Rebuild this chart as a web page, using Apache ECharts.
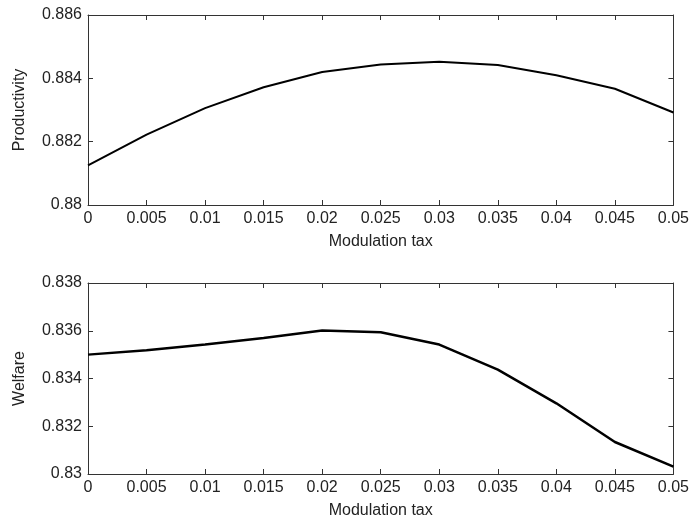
<!DOCTYPE html>
<html>
<head>
<meta charset="utf-8">
<script src="https://cdn.jsdelivr.net/npm/echarts@6/dist/echarts.min.js"></script>
<style>
html,body{margin:0;padding:0;background:#fff;}
#c{width:692px;height:523px;}
</style>
</head>
<body>
<div id="c"></div>
<script>
var taxValues = [0, 0.005, 0.01, 0.015, 0.02, 0.025, 0.03, 0.035, 0.04, 0.045, 0.05];
var productivity = [0.88125, 0.88222, 0.88306, 0.88372, 0.88420, 0.88444, 0.88452, 0.88442, 0.88410, 0.88367, 0.88292];
var welfare = [0.83500, 0.83518, 0.83542, 0.83570, 0.83601, 0.83594, 0.83542, 0.83437, 0.83296, 0.83134, 0.83031];
var xTickLabels = ['0', '0.005', '0.01', '0.015', '0.02', '0.025', '0.03', '0.035', '0.04', '0.045', '0.05'];
var prodTickLabels = ['0.88', '0.882', '0.884', '0.886'];
var welfTickLabels = ['0.83', '0.832', '0.834', '0.836', '0.838'];

var FONT = 'Liberation Sans';
var FS = 16;
var TXT = '#222';
var AX = '#333';

function pairs(xs, ys) { return xs.map(function (x, i) { return [x, ys[i]]; }); }

function xLabelFmt(v) {
  var idx = Math.round(v / 0.005);
  return xTickLabels[idx] !== undefined ? xTickLabels[idx] : '';
}
function yLabelFmt(labels, min, step) {
  return function (v) {
    var idx = Math.round((v - min) / step);
    return labels[idx] !== undefined ? labels[idx] : '';
  };
}

function mainX(gi) {
  return {
    type: 'value', gridIndex: gi, min: 0, max: 0.05, interval: 0.005,
    position: 'bottom',
    name: 'Modulation tax', nameLocation: 'middle', nameGap: 29,
    nameTextStyle: { fontFamily: FONT, fontSize: FS, color: TXT },
    axisLine: { show: true, onZero: false, lineStyle: { color: AX, width: 1 } },
    axisTick: { show: true, inside: true, length: 5, lineStyle: { color: AX } },
    axisLabel: { fontFamily: FONT, fontSize: FS, color: TXT, margin: 6, formatter: xLabelFmt, showMinLabel: true, showMaxLabel: true, hideOverlap: false },
    splitLine: { show: false }
  };
}
function topX(gi) {
  return {
    type: 'value', gridIndex: gi, min: 0, max: 0.05, interval: 0.005,
    position: 'top',
    axisLine: { show: true, onZero: false, lineStyle: { color: AX, width: 1 } },
    axisTick: { show: true, inside: true, length: 5, lineStyle: { color: AX } },
    axisLabel: { show: false }, splitLine: { show: false }
  };
}
function mainY(gi, min, max, step, labels, name) {
  return {
    type: 'value', gridIndex: gi, min: min, max: max, interval: step,
    position: 'left',
    name: name, nameLocation: 'middle', nameGap: 60, nameRotate: 90,
    nameTextStyle: { fontFamily: FONT, fontSize: FS, color: TXT },
    axisLine: { show: true, onZero: false, lineStyle: { color: AX, width: 1 } },
    axisTick: { show: true, inside: true, length: 5, lineStyle: { color: AX } },
    axisLabel: { fontFamily: FONT, fontSize: FS, color: TXT, margin: 6, formatter: yLabelFmt(labels, min, step) },
    splitLine: { show: false }
  };
}
function rightY(gi, min, max, step) {
  return {
    type: 'value', gridIndex: gi, min: min, max: max, interval: step,
    position: 'right',
    axisLine: { show: true, onZero: false, lineStyle: { color: AX, width: 1 } },
    axisTick: { show: true, inside: true, length: 5, lineStyle: { color: AX } },
    axisLabel: { show: false }, splitLine: { show: false }
  };
}

var chart = echarts.init(document.getElementById('c'), null, { renderer: 'canvas' });
chart.setOption({
  backgroundColor: '#fff',
  animation: false,
  grid: [
    { left: 88, right: 16, top: 15, height: 190 },
    { left: 88, right: 16, top: 283, height: 191 }
  ],
  xAxis: [mainX(0), topX(0), mainX(1), topX(1)],
  yAxis: [
    mainY(0, 0.88, 0.886, 0.002, prodTickLabels, 'Productivity'),
    rightY(0, 0.88, 0.886, 0.002),
    mainY(1, 0.83, 0.838, 0.002, welfTickLabels, 'Welfare'),
    rightY(1, 0.83, 0.838, 0.002)
  ],
  series: [
    { type: 'line', xAxisIndex: 0, yAxisIndex: 0, data: pairs(taxValues, productivity),
      showSymbol: false, lineStyle: { color: '#000', width: 2 }, z: 5 },
    { type: 'line', xAxisIndex: 2, yAxisIndex: 2, data: pairs(taxValues, welfare),
      showSymbol: false, lineStyle: { color: '#000', width: 2.5 }, z: 5 }
  ]
});
</script>
</body>
</html>
